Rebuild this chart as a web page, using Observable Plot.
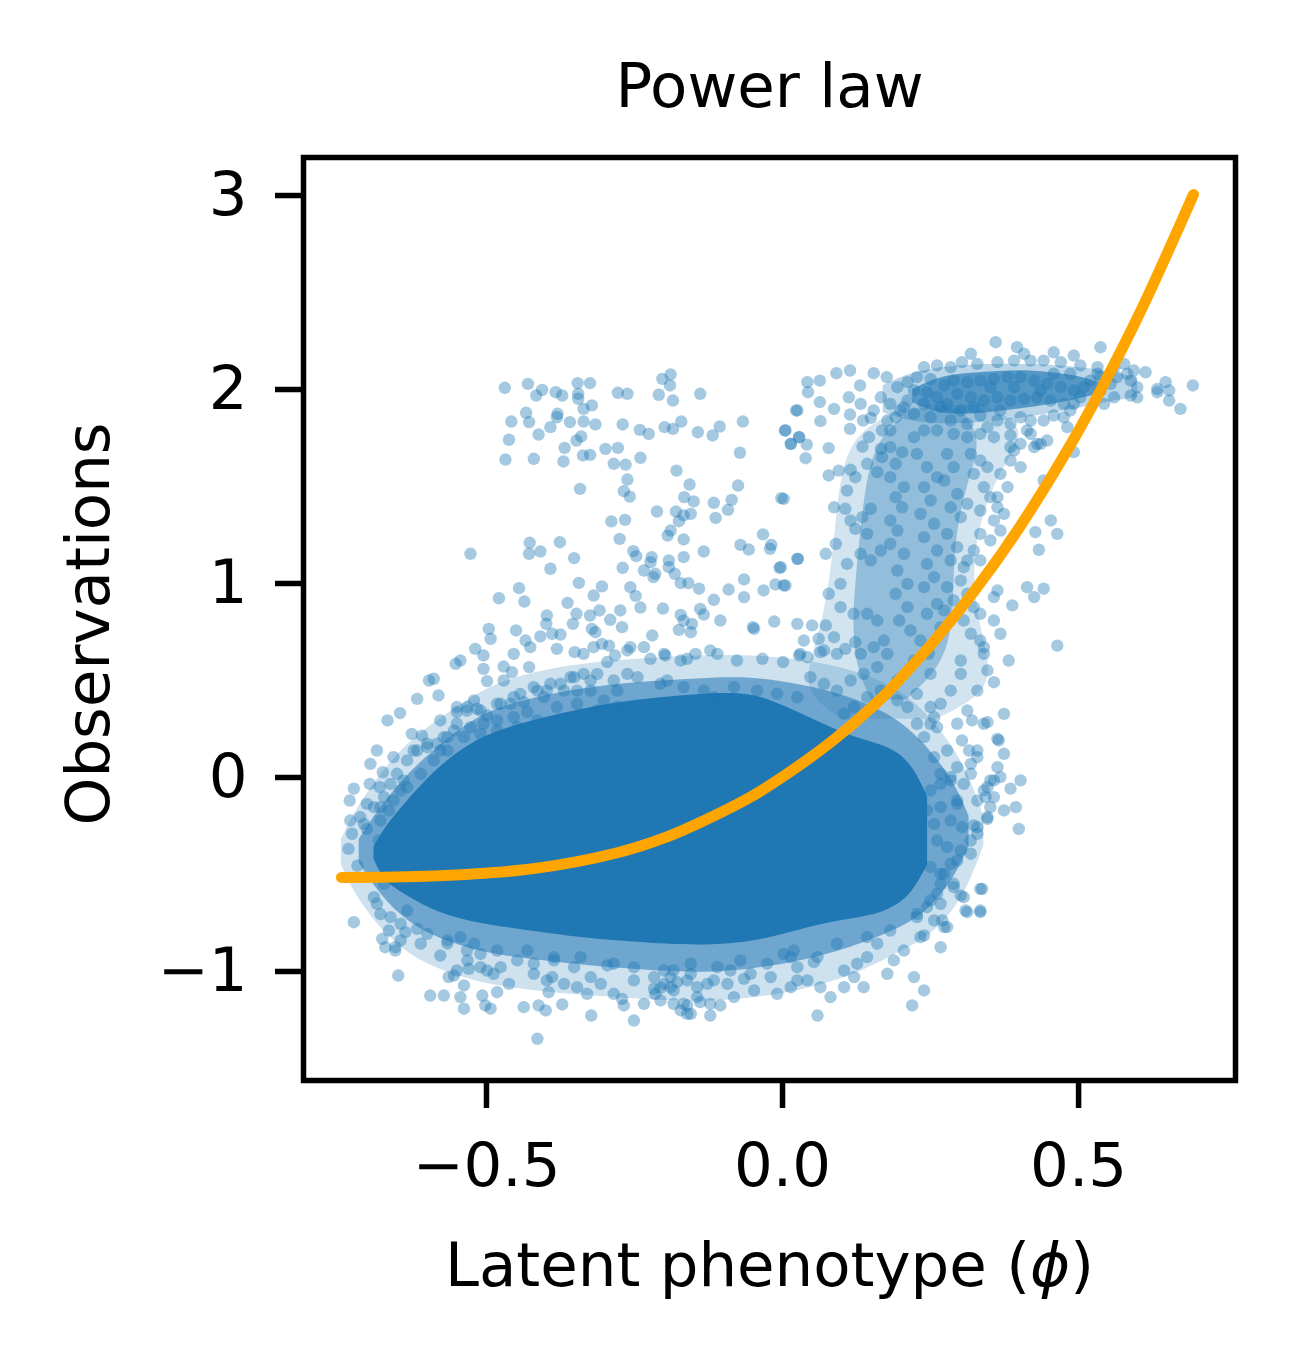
<!DOCTYPE html>
<html>
<head>
<meta charset="utf-8">
<script src="https://cdn.jsdelivr.net/npm/d3@7"></script>
<script src="https://cdn.jsdelivr.net/npm/@observablehq/plot@0.6"></script>
<style>
  html, body { margin: 0; padding: 0; background: #ffffff; }
  #chart { width: 1293px; height: 1356px; }
</style>
</head>
<body>
<div id="chart"></div>
<script>
// ---- Text ----
const titleText = "Power law";
const xLabelText = "Latent phenotype (ϕ)";
const yLabelText = "Observations";

// ---- Axes ----
const xDomain = [-0.809, 0.765];
const yDomain = [-1.562, 3.196];
const xTicks = [-0.5, 0.0, 0.5];
const yTicks = [-1, 0, 1, 2, 3];

// ---- Power-law fit curve ----
const fitX = [-0.745, -0.590, -0.421, -0.279, -0.194, -0.139, -0.054, 0.014, 0.086, 0.171, 0.216, 0.255, 0.329, 0.402, 0.492, 0.537, 0.605, 0.694];
const fitY = [-0.515, -0.508, -0.470, -0.388, -0.305, -0.232, -0.101, 0.032, 0.193, 0.420, 0.567, 0.700, 0.982, 1.298, 1.745, 1.995, 2.405, 3.005];

// ---- Dense core of the point cloud (saturated region) ----
const coreX  = [-0.690, -0.674, -0.645, -0.590, -0.532, -0.476, -0.363, -0.252, -0.139, -0.054, 0.002, 0.059, 0.115, 0.171, 0.216, 0.245];
const coreHi = [-0.36, -0.27, -0.16, 0.03, 0.17, 0.25, 0.34, 0.40, 0.43, 0.44, 0.37, 0.29, 0.21, 0.17, 0.09, -0.10];
const coreLo = [-0.42, -0.53, -0.59, -0.69, -0.74, -0.77, -0.82, -0.85, -0.87, -0.85, -0.81, -0.76, -0.73, -0.70, -0.62, -0.45];

// ---- Half-dense fringe around the core (inner and outer) ----
const fringeInX  = [-0.715, -0.690, -0.645, -0.590, -0.532, -0.476, -0.363, -0.252, -0.139, -0.054, 0.030, 0.115, 0.199, 0.250, 0.290, 0.315];
const fringeInHi = [-0.32, -0.20, -0.02, 0.14, 0.28, 0.37, 0.45, 0.49, 0.51, 0.52, 0.48, 0.42, 0.30, 0.14, -0.02, -0.20];
const fringeInLo = [-0.44, -0.56, -0.72, -0.82, -0.88, -0.92, -0.96, -0.99, -1.01, -0.99, -0.95, -0.88, -0.78, -0.68, -0.52, -0.36];
const fringeOutX  = [-0.745, -0.720, -0.660, -0.600, -0.532, -0.476, -0.363, -0.252, -0.139, -0.054, 0.030, 0.115, 0.199, 0.260, 0.310, 0.340];
const fringeOutHi = [-0.32, -0.16, 0.10, 0.26, 0.40, 0.50, 0.58, 0.61, 0.63, 0.63, 0.61, 0.56, 0.46, 0.28, 0.06, -0.20];
const fringeOutLo = [-0.45, -0.62, -0.85, -0.97, -1.04, -1.08, -1.12, -1.14, -1.16, -1.14, -1.10, -1.03, -0.90, -0.80, -0.60, -0.35];

// ---- Vertical band (outer, lighter; inner, denser) ----
const bandOutY  = [0.30, 0.45, 0.70, 1.00, 1.30, 1.60, 1.80, 1.92];
const bandOutX1 = [0.10, 0.03, 0.06, 0.08, 0.09, 0.10, 0.13, 0.22];
const bandOutX2 = [0.26, 0.36, 0.34, 0.32, 0.33, 0.37, 0.42, 0.34];
const bandInY  = [0.40, 0.60, 0.90, 1.20, 1.50, 1.75, 1.90];
const bandInX1 = [0.15, 0.12, 0.12, 0.13, 0.14, 0.16, 0.22];
const bandInX2 = [0.21, 0.28, 0.29, 0.29, 0.31, 0.34, 0.30];

// ---- Upper-right cluster (outer and inner) ----
const clusterOutX  = [0.17, 0.22, 0.28, 0.35, 0.42, 0.48, 0.54, 0.60];
const clusterOutHi = [2.02, 2.09, 2.12, 2.13, 2.13, 2.12, 2.10, 2.06];
const clusterOutLo = [1.88, 1.83, 1.82, 1.83, 1.86, 1.89, 1.93, 1.96];
const clusterInX  = [0.22, 0.26, 0.30, 0.35, 0.40, 0.45, 0.50, 0.54];
const clusterInHi = [2.00, 2.06, 2.08, 2.09, 2.10, 2.09, 2.07, 2.03];
const clusterInLo = [1.93, 1.88, 1.87, 1.88, 1.90, 1.92, 1.95, 1.98];

// ---- Individual points ----
const ptsUpperLeft = [
[-0.469,2.009],[-0.430,2.029],[-0.416,1.969],[-0.406,1.998],[-0.383,1.986],[-0.372,1.969],[-0.346,2.033],[-0.325,2.033],[-0.345,1.978],[-0.345,1.952],
[-0.433,1.880],[-0.458,1.835],[-0.428,1.832],[-0.392,1.806],[-0.380,1.875],[-0.381,1.857],[-0.359,1.832],[-0.336,1.835],[-0.322,1.918],[-0.336,1.900],
[-0.316,1.820],[-0.412,1.768],[-0.462,1.741],[-0.468,1.639],[-0.420,1.643],[-0.370,1.629],[-0.368,1.699],[-0.348,1.737],[-0.340,1.758],[-0.337,1.660],
[-0.325,1.663],[-0.299,1.694],[-0.278,1.699],[-0.285,1.617],[-0.265,1.613],[-0.240,1.648],[-0.270,1.820],[-0.241,1.792],[-0.226,1.771],[-0.199,1.806],
[-0.185,1.797],[-0.171,1.835],[-0.143,1.780],[-0.118,1.763],[-0.106,1.809],[-0.067,1.835],[-0.278,1.983],[-0.262,1.978],[-0.209,1.973],[-0.203,2.055],
[-0.189,2.077],[-0.190,2.021],[-0.185,1.943],[-0.139,1.978],[-0.072,1.674],[0.004,1.789],[0.014,1.720],[0.023,1.892],[0.028,1.754],[-0.342,1.488],
[-0.262,1.536],[-0.268,1.476],[-0.258,1.448],[-0.179,1.582],[-0.157,1.510],[-0.166,1.445],[-0.150,1.423],[-0.212,1.371],[-0.180,1.371],[-0.167,1.351],
[-0.155,1.359],[-0.175,1.321],[-0.075,1.505],[-0.086,1.431],[-0.092,1.380],[-0.116,1.416],[-0.113,1.338],[-0.002,1.440],[-0.289,1.320],[-0.266,1.328],
[-0.275,1.230],[-0.252,1.167],[-0.247,1.141],[-0.270,1.081],[-0.234,1.067],[-0.221,1.136],[-0.223,1.110],[-0.218,1.033],[-0.215,1.050],[-0.192,1.119],
[-0.192,1.084],[-0.182,1.050],[-0.167,1.136],[-0.167,1.227],[-0.194,1.247],[-0.189,1.273],[-0.133,1.165],[-0.172,1.002],[-0.159,1.002],[-0.141,0.973],
[-0.116,0.916],[-0.091,0.969],[-0.065,1.021],[-0.065,0.930],[-0.071,1.199],[-0.057,1.175],[-0.033,1.253],[-0.019,1.199],[-0.021,1.179],[-0.005,1.081],
[0.025,1.127],[-0.012,0.995],[0.002,0.990],[-0.032,0.964],[-0.427,1.210],[-0.376,1.213],[-0.428,1.153],[-0.409,1.165],[-0.527,1.153],[-0.392,1.076],
[-0.352,1.131],[-0.344,1.003],[-0.305,0.985],[-0.319,0.938],[-0.445,0.976],[-0.479,0.924],[-0.436,0.907],[-0.363,0.900],[-0.257,0.981],[-0.248,0.936],
[-0.240,0.876],[-0.202,0.871],[-0.274,0.861],[-0.291,0.813],[-0.309,0.861],[-0.325,0.835],[-0.348,0.844],[-0.354,0.792],[-0.398,0.835],[-0.399,0.792],
[-0.389,0.741],[-0.375,0.737],[-0.409,0.727],[-0.450,0.758],[-0.496,0.766],[-0.493,0.715],[-0.434,0.706],[-0.426,0.672],[-0.519,0.663],[-0.505,0.629],
[-0.454,0.637],[-0.544,0.603],[-0.552,0.586],[-0.505,0.560],[-0.471,0.572],[-0.457,0.543],[-0.428,0.569],[-0.381,0.663],[-0.351,0.646],[-0.336,0.637],
[-0.322,0.766],[-0.316,0.749],[-0.305,0.689],[-0.319,0.672],[-0.293,0.680],[-0.283,0.629],[-0.296,0.595],[-0.271,0.775],[-0.262,0.655],[-0.257,0.672],
[-0.234,0.672],[-0.223,0.612],[-0.220,0.732],[-0.200,0.637],[-0.198,0.629],[-0.172,0.603],[-0.161,0.612],[-0.147,0.637],[-0.122,0.655],[-0.110,0.637],
[-0.175,0.761],[-0.155,0.749],[-0.153,0.792],[-0.133,0.840],[-0.139,0.869],[-0.167,0.809],[-0.172,0.838],[-0.105,0.809],[-0.077,0.603],[-0.050,0.775],
[-0.048,0.766],[-0.034,0.612],[-0.014,0.804],[0.001,0.595],[0.028,0.629],[0.025,0.792],
[-0.499,0.497],[-0.471,0.500],[-0.245,0.517],[-0.195,0.500],[-0.324,0.500],[-0.352,0.517],[-0.375,0.483],[-0.398,0.448],[-0.420,0.466],[-0.443,0.431]
];

const ptsBand = [
[0.042,2.038],[0.063,2.046],[0.091,2.084],[0.114,2.098],[0.043,1.986],[0.063,1.935],[0.087,1.900],[0.112,1.960],[0.114,1.871],[0.131,2.021],
[0.154,2.084],[0.176,2.064],[0.025,1.892],[0.005,1.789],[0.028,1.754],[0.014,1.720],[0.041,1.716],[0.039,1.646],[0.064,1.837],[0.078,1.698],
[0.114,1.797],[0.136,1.840],[0.149,1.854],[0.135,1.706],[0.146,1.754],[0.166,1.694],[0.168,1.789],[0.182,1.789],[0.191,1.857],[0.205,1.909],
[0.002,1.436],[0.026,1.127],[-0.003,1.084],[0.005,0.990],[0.073,1.153],[0.090,1.204],[0.087,1.393],[0.106,1.385],[0.115,1.325],[0.135,1.342],
[0.149,1.385],[0.123,1.282],[0.143,1.256],[0.166,1.170],[0.095,1.582],[0.115,1.586],[0.109,1.479],[0.123,1.548],[0.078,1.557],[0.143,1.617],
[0.160,1.574],[0.168,1.651],[0.078,0.947],[0.098,0.998],[0.109,1.101],[0.132,1.153],[0.149,1.119],[0.098,0.878],[0.120,0.844],[0.143,0.844],
[0.160,0.809],[0.050,0.784],[0.073,0.784],[0.036,0.706],[0.061,0.715],[0.087,0.723],[0.106,0.663],[0.123,0.698],[0.030,0.637],[0.064,0.646],
[0.092,0.637],[0.132,0.637],[0.154,0.672],[0.171,0.706],[0.177,0.637],
[0.182,1.703],[0.202,1.677],[0.191,1.617],[0.182,1.548],[0.205,1.497],[0.191,1.445],[0.202,1.393],[0.182,1.325],[0.194,1.273],[0.182,1.204],
[0.205,1.153],[0.194,1.067],[0.211,0.998],[0.191,0.947],[0.211,0.878],[0.197,0.809],[0.216,0.758],[0.233,0.706],[0.247,0.637],[0.222,0.603],
[0.227,1.668],[0.244,1.600],[0.261,1.548],[0.239,1.497],[0.250,1.428],[0.233,1.359],[0.256,1.308],[0.239,1.239],[0.261,1.170],[0.244,1.101],
[0.256,1.033],[0.239,0.981],[0.261,0.895],[0.244,0.844],[0.267,0.775],[0.278,1.668],[0.289,1.600],[0.273,1.531],[0.295,1.462],[0.284,1.393],
[0.301,1.342],[0.278,1.256],[0.295,1.187],[0.284,1.119],[0.306,1.084],[0.301,1.015],[0.278,0.981],[0.289,0.912],[0.312,0.947],[0.273,0.861],
[0.323,0.878],[0.318,1.668],[0.334,1.634],[0.346,1.600],[0.323,1.565],[0.340,1.497],[0.351,1.445],[0.312,1.411],[0.334,1.376],[0.363,1.393],
[0.357,1.325],[0.374,1.359],[0.334,1.256],[0.351,1.222],[0.368,1.273],[0.323,1.170],[0.334,1.119],[0.312,1.119],[0.391,1.686],[0.385,1.634],
[0.402,1.600],[0.368,1.565],[0.380,1.497],[0.363,1.445],[0.402,1.720],[0.425,1.703],[0.436,1.720],[0.419,1.771],[0.447,1.737],[0.492,1.677],
[0.441,1.531],[0.453,1.325],[0.464,1.256],[0.427,1.265],[0.433,1.174],[0.413,0.981],[0.441,0.973],[0.425,0.930],[0.388,0.887],[0.363,0.964],
[0.357,0.930],[0.334,0.844],[0.318,0.741],[0.334,0.706],[0.357,0.809],[0.368,0.741],[0.306,0.809],[0.340,0.637],[0.382,0.603],[0.464,0.680],
[0.301,0.603]
];

const ptsCluster = [
[0.318,2.184],[0.360,2.244],[0.396,2.218],[0.408,2.184],[0.458,2.192],[0.492,2.175],[0.537,2.218],[0.239,2.115],[0.261,2.124],[0.284,2.115],
[0.303,2.141],[0.329,2.132],[0.363,2.141],[0.391,2.149],[0.419,2.149],[0.441,2.149],[0.470,2.141],[0.503,2.124],[0.532,2.115],[0.560,2.115],
[0.577,2.132],[0.593,2.098],[0.613,2.089],[0.588,2.046],[0.599,2.012],[0.633,2.003],[0.647,2.038],[0.653,1.995],[0.633,1.986],[0.653,1.943],
[0.672,1.900],[0.693,2.021],[0.599,1.960],[0.588,1.969],[0.560,1.960],[0.543,1.926],[0.537,1.995],[0.227,2.064],[0.250,2.055],[0.211,2.038],
[0.194,2.012],[0.222,1.995],[0.244,1.986],[0.261,1.960],[0.239,1.926],[0.211,1.943],[0.199,1.892],[0.222,1.875],[0.250,1.857],[0.267,1.909],
[0.284,1.840],[0.301,1.892],[0.312,1.823],[0.334,1.866],[0.346,1.806],[0.363,1.840],[0.385,1.823],[0.402,1.857],[0.419,1.840],[0.441,1.840],
[0.413,1.789],[0.430,1.720],[0.458,1.866],[0.475,1.857],[0.486,1.892],[0.492,1.926],[0.481,1.806],[0.503,1.960],[0.509,2.012],[0.492,1.995],
[0.470,2.012],[0.447,2.029],[0.425,2.046],[0.402,2.064],[0.380,2.064],[0.357,2.055],[0.334,2.046],[0.312,2.038],[0.289,2.046],[0.273,2.021],
[0.295,1.978],[0.318,1.960],[0.340,1.943],[0.363,1.960],[0.385,1.943],[0.408,1.952],[0.430,1.960],[0.453,1.943],[0.475,1.926],[0.520,2.046],
[0.537,2.064],[0.554,2.029],[0.565,2.064],[0.582,2.081],[0.278,1.926],[0.323,1.909],[0.368,1.892],[0.351,2.012],[0.391,2.012],[0.436,1.995],
[0.532,2.081],[0.486,2.081],[0.458,2.081],[0.166,1.960],[0.182,1.926],[0.154,1.892],[0.177,1.840],[0.132,1.926],[0.334,1.771],[0.357,1.754],
[0.385,1.763],[0.312,1.754],[0.289,1.771],[0.261,1.789],[0.239,1.789],[0.222,1.754],[0.385,1.703]
];

const ptsRight = [
[0.160,0.569],[0.137,0.534],[0.115,0.500],[0.092,0.448],[0.070,0.483],[0.047,0.517],[0.194,0.500],[0.166,0.448],[0.143,0.414],[0.121,0.363],
[0.104,0.328],[0.194,0.397],[0.211,0.363],[0.227,0.431],[0.250,0.534],[0.301,0.534],[0.284,0.448],[0.267,0.380],[0.346,0.552],[0.329,0.448],
[0.312,0.345],[0.295,0.277],[0.374,0.328],[0.365,0.191],[0.374,0.122],[0.340,0.277],[0.329,0.139],[0.318,0.070],[0.306,-0.033],[0.284,0.002],
[0.351,-0.015],[0.368,0.002],[0.385,-0.058],[0.402,-0.015],[0.340,-0.067],[0.357,-0.101],[0.394,-0.153],[0.346,-0.213],[0.374,-0.170],[0.399,-0.265],
[0.329,-0.256],[0.318,-0.325],[0.301,-0.376],[0.284,-0.445],[0.267,-0.497],[0.334,-0.574],[0.309,-0.686],[0.334,-0.686],[0.306,-0.617],[0.289,-0.565],
[0.267,-0.651],[0.256,-0.737],[0.273,-0.771],[0.267,-0.875],[0.233,-0.823],[0.222,-1.029],[0.239,-1.098],[0.219,-1.175],[0.205,-0.892],[0.188,-0.943],
[0.177,-1.012],[0.160,-0.857],[0.143,-0.926],[0.126,-0.960],[0.104,-0.995],[0.121,-1.029],[0.137,-1.081],[0.104,-1.081],[0.081,-1.132],[0.059,-1.227],
[0.064,-1.081],[0.042,-1.046],[0.025,-0.978],[0.002,-0.909],[-0.009,-1.115],[-0.020,-1.029],[-0.048,-1.098],[-0.082,-1.132],[-0.105,-1.175],[-0.122,-1.227],
[-0.139,-1.158],[-0.155,-1.218],[-0.167,-1.167],[-0.184,-1.098],[-0.200,-1.064],[-0.215,-1.115],[-0.189,-1.029],[-0.161,-1.046],[-0.127,-1.064],[-0.093,-1.064],
[-0.054,-1.012],[-0.026,-0.960],[0.019,-0.892],[0.059,-0.926],[0.092,-0.857],[0.143,-0.823],[0.182,-0.789],[0.227,-0.704],[0.250,-0.634],[0.267,-0.548],
[0.256,-0.239],[0.244,-0.170],[0.295,-0.136],[0.267,-0.033],[0.256,0.105],[0.239,0.208],[0.256,0.311],[0.227,0.277],
[-0.206,0.483],[-0.167,0.466],[-0.133,0.448],[-0.116,0.414],[-0.082,0.466],[-0.043,0.448],[-0.009,0.431],[0.025,0.414],[0.042,0.620],[0.070,0.655]
];

const ptsLeft = [
[-0.597,0.500],[-0.589,0.509],[-0.581,0.423],[-0.617,0.405],[-0.667,0.294],[-0.646,0.332],[-0.626,0.225],[-0.609,0.216],[-0.578,0.294],[-0.572,0.208],
[-0.550,0.363],[-0.532,0.363],[-0.521,0.397],[-0.675,0.027],[-0.697,-0.033],[-0.680,-0.050],[-0.724,-0.058],[-0.731,-0.119],[-0.730,-0.222],[-0.713,-0.204],
[-0.679,-0.153],[-0.665,-0.170],[-0.702,-0.265],[-0.682,-0.325],[-0.733,-0.368],[-0.718,-0.454],[-0.727,-0.290],[-0.724,-0.746],[-0.679,-0.704],[-0.665,-0.789],
[-0.654,-0.875],[-0.676,-0.832],[-0.645,-0.840],[-0.617,-0.780],[-0.600,-0.806],[-0.578,-0.918],[-0.649,-1.021],[-0.595,-1.124],[-0.572,-1.124],[-0.555,-1.021],
[-0.538,-1.072],[-0.538,-1.192],[-0.507,-1.124],[-0.502,-1.175],[-0.482,-1.107],[-0.493,-1.192],[-0.532,-0.943],[-0.510,-0.909],[-0.476,-0.978],[-0.462,-1.064],
[-0.437,-1.184],[-0.412,-1.175],[-0.414,-1.347],[-0.395,-1.107],[-0.389,-1.029],[-0.369,-1.064],[-0.347,-1.081],[-0.330,-1.115],[-0.323,-1.227],[-0.307,-1.064],
[-0.285,-1.115],[-0.271,-1.141],[-0.251,-1.253],[-0.234,-1.167],[-0.206,-1.149],[-0.189,-1.081],[-0.172,-1.201],[-0.161,-1.218],[-0.144,-1.132],[-0.690,-0.617],
[-0.673,-0.548],[-0.685,-0.651],[-0.662,-0.720],[-0.645,-0.754],[-0.634,-0.686],[-0.611,-0.857],[-0.566,-0.857],[-0.544,-0.823],[-0.521,-0.857],[-0.499,-0.995],
[-0.448,-0.943],[-0.420,-0.960],[-0.386,-0.926],[-0.352,-0.978],[-0.324,-1.029],[-0.285,-0.960],[-0.251,-1.046],[-0.217,-1.029],[-0.184,-0.995],[-0.155,-1.012],
[-0.696,0.070],[-0.685,0.139],[-0.657,0.105],[-0.640,-0.015],[-0.623,0.139],[-0.600,0.174],[-0.578,0.139],[-0.555,0.242],[-0.510,0.345],[-0.476,0.380],
[-0.454,0.414],[-0.645,-0.067],[-0.702,-0.136]
];

const ptsFringe = [
[-0.550,0.337],[-0.533,0.345],[-0.516,0.354],[-0.499,0.320],[-0.482,0.380],[-0.459,0.380],[-0.437,0.388],[-0.414,0.448],[-0.392,0.483],[-0.369,0.448],
[-0.347,0.448],[-0.324,0.448],[-0.302,0.397],[-0.279,0.448],[-0.262,0.534],[-0.285,0.500],[-0.313,0.534],[-0.336,0.534],[-0.358,0.517],[-0.403,0.414],
[-0.431,0.337],[-0.454,0.311],[-0.482,0.294],[-0.505,0.277],[-0.527,0.259],[-0.550,0.277],[-0.566,0.208],[-0.583,0.174],[-0.600,0.156],[-0.617,0.139],
[-0.634,0.088],[-0.651,0.019],[-0.662,-0.033],[-0.673,-0.101],[-0.690,-0.153],[-0.707,-0.239],[-0.679,-0.222],[-0.657,-0.119],[-0.634,-0.050],[-0.611,0.019],
[-0.589,0.088],[-0.566,0.139],[-0.538,0.208],[-0.510,0.225],[-0.482,0.242],[-0.448,0.259],[-0.414,0.294],[-0.381,0.363],[-0.347,0.380],[-0.313,0.345],
[-0.279,0.363],
[-0.544,-1.132],[-0.400,-1.201],[-0.372,-1.170],[-0.268,-1.175],[-0.184,-1.167],[-0.161,-1.175],[-0.122,-1.167],[0.014,-1.081],[-0.564,-1.029],[-0.550,-0.995],
[-0.530,-0.986],[-0.510,-0.978],[-0.488,-1.012],[-0.420,-1.012],[-0.398,-1.046],[-0.217,-1.089],[-0.206,-1.084],[-0.178,-1.055],[-0.144,-1.081],[-0.116,-1.046],
[-0.088,-0.995],[-0.065,-1.038],[0.025,-1.046],[-0.671,-0.875],[-0.654,-0.892],[-0.637,-0.797],[-0.566,-0.840],[-0.533,-0.892],[-0.482,-0.892],[-0.431,-0.892],
[-0.386,-0.943],[-0.341,-0.926],[-0.296,-0.969],[-0.251,-0.978],[-0.200,-0.995],[-0.155,-0.960],[-0.110,-0.978],[-0.071,-0.943],[0.014,-0.926],[0.053,-0.952],
[0.340,0.672],[0.357,0.491],[0.346,0.285],[0.320,0.294],[0.303,0.191],[0.363,0.199],[0.315,0.139],[0.329,0.105],[0.295,0.053],[0.318,0.019],
[0.357,-0.015],[0.346,-0.050],[0.343,-0.101],[0.329,-0.119],[0.346,-0.204],[0.323,-0.247],[0.303,-0.256],[0.329,-0.290],[0.318,-0.393],[0.295,-0.428],
[0.273,-0.497],[0.289,-0.548],[0.301,-0.608],[0.337,-0.574],[0.312,-0.694],[0.334,-0.694],[0.270,-0.737],[0.278,-0.771],[0.239,-0.814],[0.363,0.053],
[0.351,-0.153],[0.250,0.363],[0.261,0.259],[0.278,0.139],[0.267,0.019],[0.250,-0.067],[0.267,-0.153],[0.284,-0.222],[0.261,-0.325],[0.278,-0.359],
[0.250,-0.462],[0.261,-0.600],[0.244,-0.668],[0.227,-0.720],[0.250,0.277],[0.284,-0.015],[0.295,-0.119]
];

const pointGroups = [ptsUpperLeft, ptsBand, ptsCluster, ptsRight, ptsLeft, ptsFringe];

// ---- Build tables for the library ----
const points = pointGroups.flat().map(([x, y]) => ({x, y}));
const fitLine = fitX.map((x, i) => ({x, y: fitY[i]}));
const rangeTable = (xs, lo, hi) => xs.map((x, i) => ({x, lo: lo[i], hi: hi[i]}));
const spanTable = (ys, x1, x2) => ys.map((y, i) => ({y, x1: x1[i], x2: x2[i]}));
const core = rangeTable(coreX, coreLo, coreHi);
const fringeIn = rangeTable(fringeInX, fringeInLo, fringeInHi);
const fringeOut = rangeTable(fringeOutX, fringeOutLo, fringeOutHi);
const clusterOut = rangeTable(clusterOutX, clusterOutLo, clusterOutHi);
const clusterIn = rangeTable(clusterInX, clusterInLo, clusterInHi);
const bandOut = spanTable(bandOutY, bandOutX1, bandOutX2);
const bandIn = spanTable(bandInY, bandInX1, bandInX2);

const blue = "#1f77b4";
const FS = 61;
const fmt = d3.format(".1f");

const chart = Plot.plot({
  width: 1293,
  height: 1356,
  marginLeft: 303,
  marginRight: 58,
  marginTop: 157,
  marginBottom: 276,
  style: {fontFamily: "DejaVu Sans, sans-serif", fontSize: FS + "px", background: "#ffffff", color: "#000000"},
  x: {domain: xDomain},
  y: {domain: yDomain},
  marks: [
    Plot.areaY(fringeOut, {x: "x", y1: "lo", y2: "hi", fill: blue, fillOpacity: 0.22, curve: "basis"}),
    Plot.areaY(fringeIn, {x: "x", y1: "lo", y2: "hi", fill: blue, fillOpacity: 0.55, curve: "basis"}),
    Plot.areaY(core, {x: "x", y1: "lo", y2: "hi", fill: blue, fillOpacity: 1, curve: "basis"}),
    Plot.areaX(bandOut, {y: "y", x1: "x1", x2: "x2", fill: blue, fillOpacity: 0.2, curve: "basis"}),
    Plot.areaX(bandIn, {y: "y", x1: "x1", x2: "x2", fill: blue, fillOpacity: 0.35, curve: "basis"}),
    Plot.areaY(clusterOut, {x: "x", y1: "lo", y2: "hi", fill: blue, fillOpacity: 0.3, curve: "basis"}),
    Plot.areaY(clusterIn, {x: "x", y1: "lo", y2: "hi", fill: blue, fillOpacity: 0.65, curve: "basis"}),
    Plot.dot(points, {x: "x", y: "y", r: 6.2, fill: blue, fillOpacity: 0.4, stroke: "none"}),
    Plot.line(fitLine, {x: "x", y: "y", stroke: "#ffa500", strokeWidth: 11, curve: "catmull-rom"}),
    Plot.frame({stroke: "#000000", strokeWidth: 5.5}),
    Plot.axisX({ticks: xTicks, tickFormat: fmt, tickSize: 28, tickPadding: 34, strokeWidth: 5.5, fontSize: FS, label: null}),
    Plot.axisY({ticks: yTicks, tickFormat: d => d3.format("d")(d), tickSize: 28, tickPadding: 28, strokeWidth: 5.5, fontSize: FS, label: null}),
    Plot.text([titleText], {frameAnchor: "top", lineAnchor: "middle", textAnchor: "middle", dy: -70, fontSize: FS, fill: "#000000"}),
    Plot.text([xLabelText], {frameAnchor: "bottom", lineAnchor: "middle", textAnchor: "middle", dy: 186, fontSize: FS, fill: "#000000"}),
    Plot.text([yLabelText], {frameAnchor: "left", lineAnchor: "middle", textAnchor: "middle", dx: -214, dy: 5, rotate: -90, fontSize: FS, fill: "#000000"})
  ]
});

document.getElementById("chart").appendChild(chart);

// italic phi in the x label (mathtext style)
d3.select(chart).selectAll("text").each(function() {
  if (this.textContent === xLabelText) {
    const t = d3.select(this);
    t.text(null);
    t.append("tspan").text("Latent phenotype (");
    t.append("tspan").attr("font-style", "italic").text("ϕ");
    t.append("tspan").text(")");
  }
});
</script>
</body>
</html>
